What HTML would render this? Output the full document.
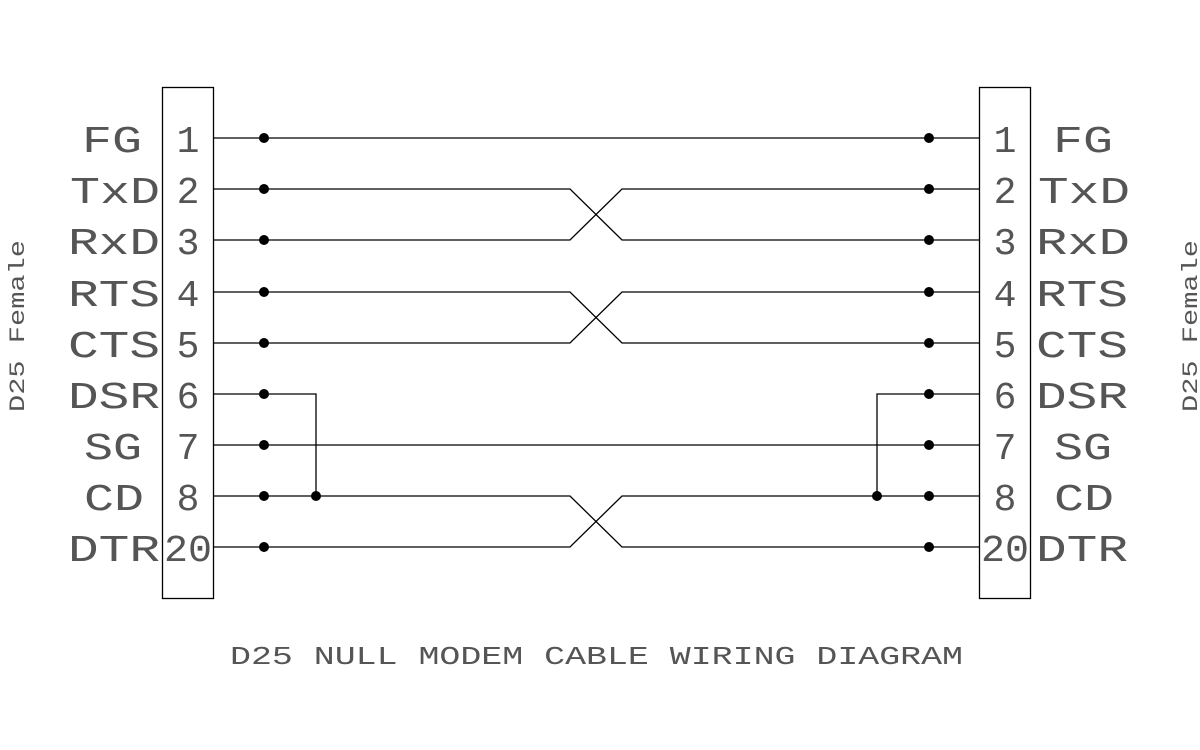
<!DOCTYPE html>
<html><head><style>html,body{margin:0;padding:0;background:#fff}svg{display:block}</style></head>
<body>
<svg width="1200" height="750" viewBox="0 0 1200 750" xmlns="http://www.w3.org/2000/svg">
<rect width="1200" height="750" fill="#fff"/>
<g stroke="#000" stroke-width="1.3" fill="none">
<rect x="162.5" y="87.5" width="51" height="511"/>
<rect x="979.5" y="87.5" width="51" height="511"/>
<path d="M213 138H979"/>
<path d="M213 189H570L622 240H979"/>
<path d="M213 240H570L622 189H979"/>
<path d="M213 292H570L622 343H979"/>
<path d="M213 343H570L622 292H979"/>
<path d="M213 394H316V496"/>
<path d="M877 496V394H979"/>
<path d="M213 445H979"/>
<path d="M213 496H570L622 547H979"/>
<path d="M213 547H570L622 496H979"/>
</g>
<g fill="#000">
<circle cx="264" cy="138" r="5"/><circle cx="264" cy="189" r="5"/><circle cx="264" cy="240" r="5"/>
<circle cx="264" cy="292" r="5"/><circle cx="264" cy="343" r="5"/><circle cx="264" cy="394" r="5"/>
<circle cx="264" cy="445" r="5"/><circle cx="264" cy="496" r="5"/><circle cx="264" cy="547" r="5"/>
<circle cx="316" cy="496" r="5"/><circle cx="877" cy="496" r="5"/>
<circle cx="929" cy="138" r="5"/><circle cx="929" cy="189" r="5"/><circle cx="929" cy="240" r="5"/>
<circle cx="929" cy="292" r="5"/><circle cx="929" cy="343" r="5"/><circle cx="929" cy="394" r="5"/>
<circle cx="929" cy="445" r="5"/><circle cx="929" cy="496" r="5"/><circle cx="929" cy="547" r="5"/>
</g>
<g font-family="Liberation Mono, monospace" font-size="38" fill="#555">
<text x="82" y="152" textLength="60" lengthAdjust="spacingAndGlyphs">FG</text>
<text x="70" y="203" textLength="90" lengthAdjust="spacingAndGlyphs">TxD</text>
<text x="68" y="254" textLength="92" lengthAdjust="spacingAndGlyphs">RxD</text>
<text x="68" y="306" textLength="92" lengthAdjust="spacingAndGlyphs">RTS</text>
<text x="68" y="357" textLength="92" lengthAdjust="spacingAndGlyphs">CTS</text>
<text x="68" y="408" textLength="92" lengthAdjust="spacingAndGlyphs">DSR</text>
<text x="84" y="459" textLength="58" lengthAdjust="spacingAndGlyphs">SG</text>
<text x="84" y="510" textLength="60" lengthAdjust="spacingAndGlyphs">CD</text>
<text x="68" y="561" textLength="92" lengthAdjust="spacingAndGlyphs">DTR</text>
<g text-anchor="middle">
<text x="188" y="152">1</text><text x="188" y="203">2</text><text x="188" y="254">3</text>
<text x="188" y="306">4</text><text x="188" y="357">5</text><text x="188" y="408">6</text>
<text x="188" y="459">7</text><text x="188" y="510">8</text>
<text x="1005" y="152">1</text><text x="1005" y="203">2</text><text x="1005" y="254">3</text>
<text x="1005" y="306">4</text><text x="1005" y="357">5</text><text x="1005" y="408">6</text>
<text x="1005" y="459">7</text><text x="1005" y="510">8</text>
</g>
<text x="164" y="561" textLength="48" lengthAdjust="spacingAndGlyphs">20</text>
<text x="981" y="561" textLength="48" lengthAdjust="spacingAndGlyphs">20</text>
<text x="1053" y="152" textLength="60" lengthAdjust="spacingAndGlyphs">FG</text>
<text x="1038" y="203" textLength="92" lengthAdjust="spacingAndGlyphs">TxD</text>
<text x="1036" y="254" textLength="94" lengthAdjust="spacingAndGlyphs">RxD</text>
<text x="1036" y="306" textLength="92" lengthAdjust="spacingAndGlyphs">RTS</text>
<text x="1036" y="357" textLength="92" lengthAdjust="spacingAndGlyphs">CTS</text>
<text x="1036" y="408" textLength="92" lengthAdjust="spacingAndGlyphs">DSR</text>
<text x="1054" y="459" textLength="58" lengthAdjust="spacingAndGlyphs">SG</text>
<text x="1054" y="510" textLength="60" lengthAdjust="spacingAndGlyphs">CD</text>
<text x="1036" y="561" textLength="92" lengthAdjust="spacingAndGlyphs">DTR</text>
</g>
<g font-family="Liberation Mono, monospace" font-size="22" fill="#555">
<text transform="translate(24,412) rotate(-90)" textLength="172" lengthAdjust="spacingAndGlyphs">D25 Female</text>
<text transform="translate(1197,412) rotate(-90)" textLength="172" lengthAdjust="spacingAndGlyphs">D25 Female</text>
<text x="230" y="664" font-size="26" textLength="733" lengthAdjust="spacingAndGlyphs">D25 NULL MODEM CABLE WIRING DIAGRAM</text>
</g>
</svg>
</body></html>
